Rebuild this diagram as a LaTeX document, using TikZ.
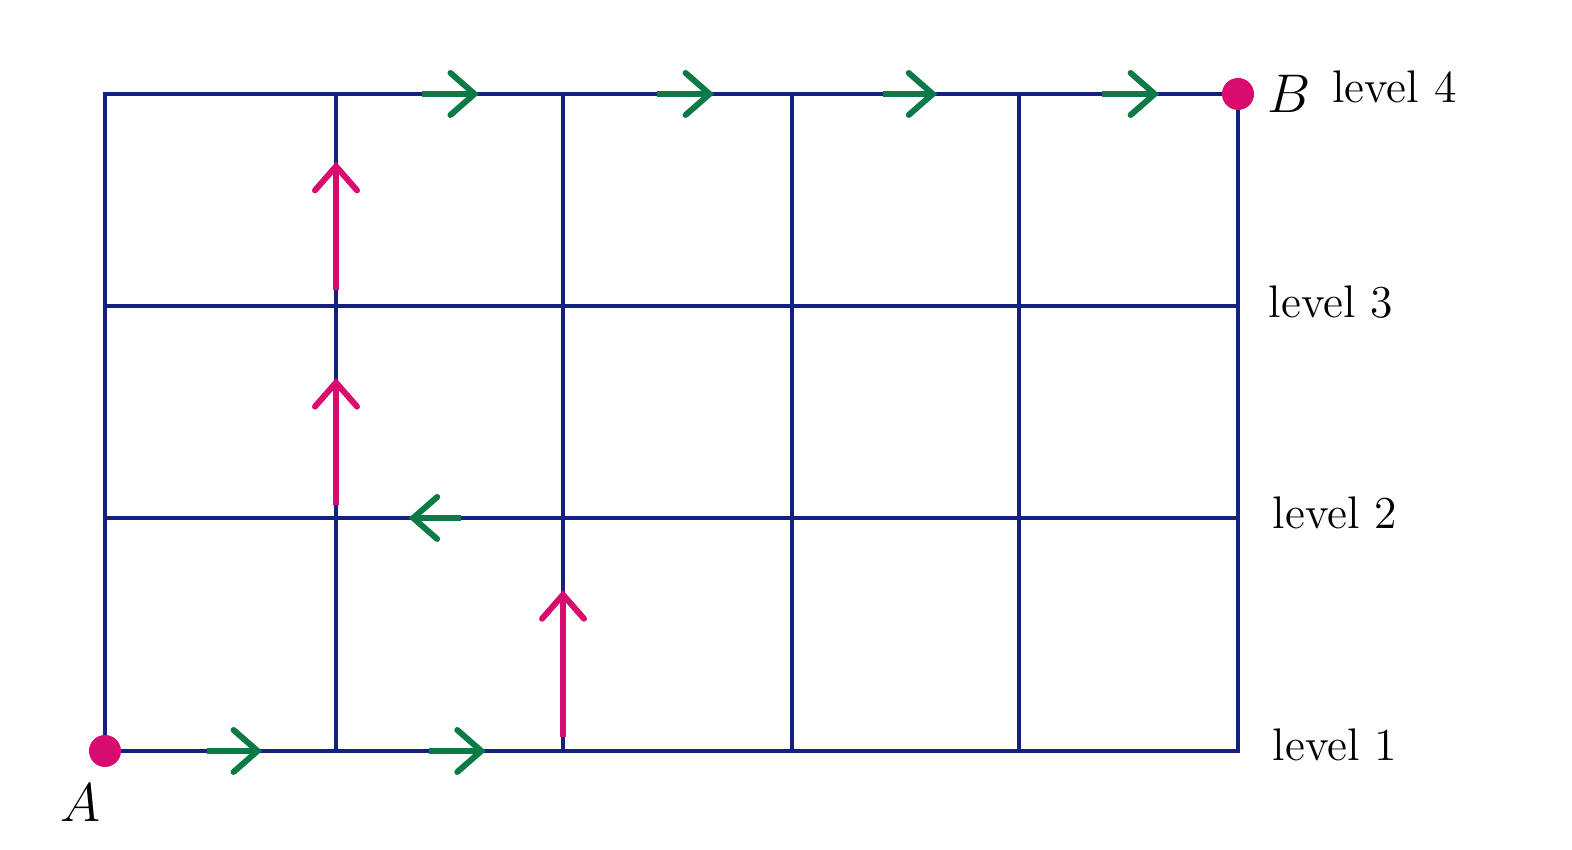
\RequirePackage{fix-cm}
\documentclass[tikz,border=0pt]{standalone}
\usepackage{fontspec}
\usepackage{xcolor}
\definecolor{navy}{HTML}{14217F}
\definecolor{rose}{HTML}{D80B6E}
\definecolor{forest}{HTML}{0C7A47}
\usepackage{tikz}
\usetikzlibrary{calc,arrows.meta,positioning}
\tikzset{
    grid/.style={navy, line width=1.3pt, line cap=rect},
    hop/.style={forest, line width=1.7pt, -{Straight Barb[length=0.24cm, width=0.42cm, line cap=round]}},
    rise/.style={rose, line width=1.7pt, -{Straight Barb[length=0.24cm, width=0.42cm, line cap=round]}},
    point/.style={circle, fill=rose, inner sep=0pt, minimum size=0.32cm},
    lvl/.style={inner sep=2pt, font=\fontsize{13}{15}\selectfont},
    ends/.style={inner sep=2pt, font=\fontsize{15.5}{18}\selectfont}
}

\begin{document}
\begin{tikzpicture}
      \useasboundingbox (0,0) rectangle (15.72,8.5);
      \foreach \i/\x in {0/1.05,1/3.36,2/5.63,3/7.92,4/10.19,5/12.38}
        \foreach \j/\y in {1/0.99,2/3.32,3/5.44,4/7.56}
          \coordinate (g-\i-\j) at (\x,\y);

      \foreach \j in {1,...,4} \draw[grid] (g-0-\j) -- (g-5-\j);
      \foreach \i in {0,...,5} \draw[grid] (g-\i-1) -- (g-\i-4);

      % path from A to B
      \draw[hop] ($(g-0-1)!.44!(g-1-1)$) -- ($(g-0-1)!.68!(g-1-1)$);
      \draw[hop] ($(g-1-1)!.41!(g-2-1)$) -- ($(g-1-1)!.66!(g-2-1)$);
      \draw[rise] ($(g-2-1)!.06!(g-2-2)$) -- ($(g-2-1)!.69!(g-2-2)$);
      \draw[hop] ($(g-1-2)!.55!(g-2-2)$) -- ($(g-1-2)!.32!(g-2-2)$);
      \draw[rise] ($(g-1-2)!.06!(g-1-3)$) -- ($(g-1-2)!.66!(g-1-3)$);
      \draw[rise] ($(g-1-3)!.075!(g-1-4)$) -- ($(g-1-3)!.68!(g-1-4)$);
      \foreach \i/\k/\s/\e in {1/2/.38/.63,2/3/.41/.66,3/4/.40/.64,4/5/.38/.64}
        \draw[hop] ($(g-\i-4)!\s!(g-\k-4)$) -- ($(g-\i-4)!\e!(g-\k-4)$);

      \node[point] (A) at (g-0-1) {};
      \node[point] (B) at (g-5-4) {};
      \node[ends] (labA) at ([shift={(-0.25,-0.52)}]A) {$A$};
      \node[ends, right=0.05cm of B] (labB) {$B$};
      \node[lvl, right=0.06cm of labB, yshift=0.07cm] (lev4) {level 4};
      \node[lvl, right=0.23cm of g-5-3, yshift=0.04cm] (lev3) {level 3};
      \node[lvl, right=0.27cm of g-5-2, yshift=0.05cm] (lev2) {level 2};
      \node[lvl, right=0.27cm of g-5-1, yshift=0.06cm] (lev1) {level 1};
\end{tikzpicture}
\end{document}
